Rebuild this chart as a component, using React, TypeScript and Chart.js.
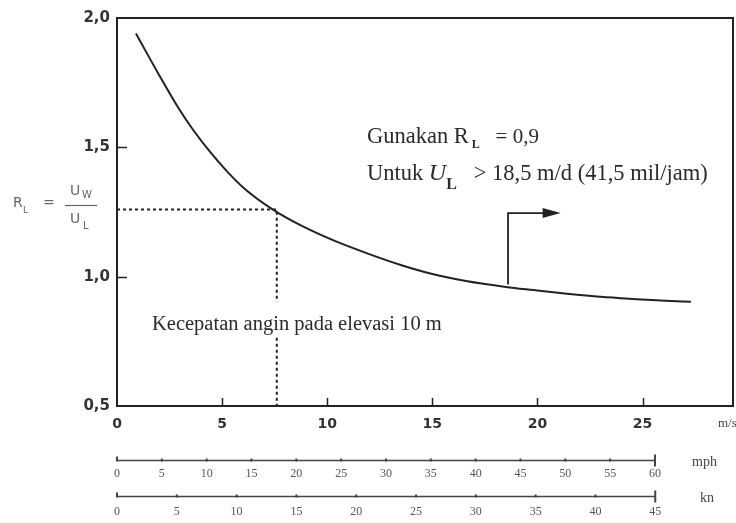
import React, { useEffect, useRef } from 'react';
import { Chart, registerables } from 'chart.js';

Chart.register(...registerables);

// Main curve: wind speed at 10 m elevation (m/s) vs R_L = U_W / U_L
const windSpeed = [0.9, 2.0, 2.9, 3.6, 4.4, 5.2, 6.0, 7.4, 8.7, 10.3, 11.9, 13.5, 15.0, 16.6, 18.5, 19.8, 21.4, 23.0, 24.5, 26.1, 27.3];
const ratio = [1.94, 1.78, 1.655, 1.57, 1.485, 1.41, 1.345, 1.26, 1.20, 1.14, 1.09, 1.045, 1.01, 0.983, 0.96, 0.948, 0.934, 0.922, 0.914, 0.907, 0.903];

// Reading example (dotted guide)
const guideX = [0, 7.6, 7.6];
const guideY = [1.26, 1.26, 0.5];

// Arrow marking U_L > 18.5
const arrowX = [18.6, 18.6, 20.3];
const arrowY = [0.97, 1.246, 1.246];
const arrowTip = { x: 21.1, y: 1.246 };

// Axis tick values
const xTicks = [0, 5, 10, 15, 20, 25];
const yTicks = [0.5, 1.0, 1.5, 2.0];
const mphTicks = [0, 5, 10, 15, 20, 25, 30, 35, 40, 45, 50, 55, 60];
const knTicks = [0, 5, 10, 15, 20, 25, 30, 35, 40, 45];

const SERIF = '"Liberation Serif", "DejaVu Serif", serif';
const SANS = '"DejaVu Sans", sans-serif';

type Seg = { text: string; font: string; dy?: number };

function drawSegs(ctx: CanvasRenderingContext2D, segs: Seg[], x: number, y: number) {
  let cx = x;
  for (const s of segs) {
    ctx.font = s.font;
    ctx.fillText(s.text, cx, y + (s.dy || 0));
    cx += ctx.measureText(s.text).width;
  }
  return cx;
}

const decorPlugin = {
  id: 'decor',
  afterDraw(chart: any) {
    const ctx: CanvasRenderingContext2D = chart.ctx;
    const { chartArea } = chart;
    const sx = chart.scales.x;
    const sy = chart.scales.y;
    ctx.save();

    // frame
    ctx.strokeStyle = '#222';
    ctx.lineWidth = 2;
    ctx.strokeRect(chartArea.left, chartArea.top, chartArea.right - chartArea.left, chartArea.bottom - chartArea.top);

    // inward ticks
    ctx.lineWidth = 1.5;
    ctx.beginPath();
    for (const v of xTicks) {
      if (v === 0) continue;
      const px = Math.round(sx.getPixelForValue(v)) + 0.5;
      ctx.moveTo(px, chartArea.bottom);
      ctx.lineTo(px, chartArea.bottom - 8);
    }
    for (const v of yTicks) {
      if (v === 0.5 || v === 2.0) continue;
      const py = Math.round(sy.getPixelForValue(v)) + 0.5;
      ctx.moveTo(chartArea.left, py);
      ctx.lineTo(chartArea.left + 10, py);
    }
    ctx.stroke();

    // arrow head
    const tx = sx.getPixelForValue(arrowTip.x);
    const ty = sy.getPixelForValue(arrowTip.y);
    ctx.fillStyle = '#222';
    ctx.beginPath();
    ctx.moveTo(tx, ty);
    ctx.lineTo(tx - 18, ty - 5);
    ctx.lineTo(tx - 18, ty + 5);
    ctx.closePath();
    ctx.fill();

    // secondary scales (mph, kn)
    const drawSub = (scale: any, ticks: number[]) => {
      const y = Math.round(scale.top) + 0.5;
      const x0 = scale.getPixelForValue(ticks[0]);
      const x1 = scale.getPixelForValue(ticks[ticks.length - 1]);
      ctx.strokeStyle = '#444';
      ctx.lineWidth = 1.3;
      ctx.beginPath();
      ctx.moveTo(x0, y);
      ctx.lineTo(x1, y);
      ctx.stroke();
      ctx.lineWidth = 2;
      ctx.beginPath();
      ticks.forEach((v, i) => {
        const px = scale.getPixelForValue(v);
        const h = i === ticks.length - 1 ? 6 : i === 0 ? 4 : 2;
        ctx.moveTo(px, y - h);
        ctx.lineTo(px, y + (i === ticks.length - 1 ? 6 : 1));
      });
      ctx.stroke();
    };
    drawSub(chart.scales.xMph, mphTicks);
    drawSub(chart.scales.xKn, knTicks);

    // unit labels
    ctx.fillStyle = '#444';
    ctx.textBaseline = 'middle';
    ctx.textAlign = 'left';
    ctx.font = `13px ${SERIF}`;
    ctx.fillText('m/s', 718, 424);
    ctx.font = `14px ${SERIF}`;
    ctx.fillText('mph', 692, 462);
    ctx.fillText('kn', 700, 498);

    // y-axis title: R_L = U_W / U_L
    ctx.fillStyle = '#666';
    ctx.font = `14px ${SANS}`;
    ctx.fillText('R', 13, 203);
    ctx.font = `9px ${SANS}`;
    ctx.fillText('L', 23, 211);
    ctx.font = `14px ${SANS}`;
    ctx.fillText('=', 43, 203);
    ctx.fillText('U', 70, 191);
    ctx.font = `10px ${SANS}`;
    ctx.fillText('W', 82, 195);
    ctx.font = `14px ${SANS}`;
    ctx.fillText('U', 70, 219);
    ctx.font = `10px ${SANS}`;
    ctx.fillText('L', 83, 226);
    ctx.strokeStyle = '#666';
    ctx.lineWidth = 1.2;
    ctx.beginPath();
    ctx.moveTo(65, 205.5);
    ctx.lineTo(97, 205.5);
    ctx.stroke();

    // annotations inside plot
    ctx.fillStyle = '#2a2a2a';
    ctx.textBaseline = 'alphabetic';
    const ax = sx.getPixelForValue(11.89);
    const l1 = sy.getPixelForValue(1.517);
    const l2 = sy.getPixelForValue(1.374);
    drawSegs(ctx, [
      { text: 'Gunakan R', font: `22.5px ${SERIF}` },
      { text: ' L', font: `bold 12px ${SERIF}`, dy: 5 },
      { text: '   = 0,9', font: `21px ${SERIF}` },
    ], ax, l1);
    drawSegs(ctx, [
      { text: 'Untuk ', font: `22.5px ${SERIF}` },
      { text: 'U', font: `italic 24px ${SERIF}` },
      { text: 'L', font: `bold 16px ${SERIF}`, dy: 9 },
      { text: '   > 18,5 m/d (41,5 mil/jam)', font: `22.5px ${SERIF}` },
    ], ax, l2);

    // lower note with white backing (interrupts dotted line)
    const kx = sx.getPixelForValue(1.665);
    const ky = sy.getPixelForValue(0.794);
    ctx.font = `20.5px ${SERIF}`;
    const note = 'Kecepatan angin pada elevasi 10 m';
    const w = ctx.measureText(note).width;
    ctx.fillStyle = '#fff';
    ctx.fillRect(kx - 2, ky - 28, w + 4, 33);
    ctx.fillStyle = '#2a2a2a';
    ctx.fillText(note, kx, ky);

    ctx.restore();
  },
};

export default function App() {
  const ref = useRef<HTMLCanvasElement | null>(null);

  useEffect(() => {
    if (!ref.current) return;
    const setTicks = (vals: number[]) => (s: any) => {
      s.ticks = vals.map((v) => ({ value: v }));
    };
    const chart = new Chart(ref.current, {
      type: 'line',
      data: {
        datasets: [
          {
            data: windSpeed.map((x, i) => ({ x, y: ratio[i] })),
            borderColor: '#222',
            borderWidth: 2,
            pointRadius: 0,
            tension: 0.4,
            cubicInterpolationMode: 'monotone',
            xAxisID: 'x',
            yAxisID: 'y',
          },
          {
            data: guideX.map((x, i) => ({ x, y: guideY[i] })),
            borderColor: '#222',
            borderWidth: 2,
            borderDash: [3, 3],
            pointRadius: 0,
            tension: 0,
            xAxisID: 'x',
            yAxisID: 'y',
          },
          {
            data: arrowX.map((x, i) => ({ x, y: arrowY[i] })),
            borderColor: '#222',
            borderWidth: 1.8,
            pointRadius: 0,
            tension: 0,
            xAxisID: 'x',
            yAxisID: 'y',
          },
        ],
      },
      options: {
        animation: false,
        responsive: false,
        layout: { padding: { top: 18, right: 3, bottom: 0, left: 0 } },
        plugins: { legend: { display: false }, tooltip: { enabled: false } },
        scales: {
          x: {
            type: 'linear',
            axis: 'x',
            position: 'bottom',
            weight: 0,
            min: 0,
            max: 29.3,
            afterBuildTicks: setTicks(xTicks),
            afterFit: (s: any) => { s.height = 54; },
            grid: { display: false, drawTicks: false },
            border: { display: true, color: '#222', width: 2 },
            ticks: { color: '#333', font: { family: SANS, size: 14, weight: 'bold' }, padding: 10, maxRotation: 0, autoSkip: false },
          },
          xMph: {
            type: 'linear',
            axis: 'x',
            position: 'bottom',
            weight: 1,
            min: 0,
            max: 68.7,
            afterBuildTicks: setTicks(mphTicks),
            afterFit: (s: any) => { s.height = 36; },
            grid: { display: false, drawTicks: false },
            border: { display: false },
            ticks: { color: '#555', font: { family: SERIF, size: 12 }, padding: 7, maxRotation: 0, autoSkip: false },
          },
          xKn: {
            type: 'linear',
            axis: 'x',
            position: 'bottom',
            weight: 2,
            min: 0,
            max: 51.5,
            afterBuildTicks: setTicks(knTicks),
            afterFit: (s: any) => { s.height = 27; },
            grid: { display: false, drawTicks: false },
            border: { display: false },
            ticks: { color: '#555', font: { family: SERIF, size: 12 }, padding: 9, maxRotation: 0, autoSkip: false },
          },
          y: {
            type: 'linear',
            position: 'left',
            min: 0.5,
            max: 2.0,
            afterBuildTicks: setTicks(yTicks),
            afterFit: (s: any) => { s.width = 117; },
            grid: { display: false, drawTicks: false },
            border: { display: true, color: '#222', width: 2 },
            ticks: {
              color: '#333',
              font: { family: SANS, size: 15, weight: 'bold' },
              padding: 7,
              callback: (v: any) => Number(v).toFixed(1).replace('.', ','),
            },
          },
        },
      },
      plugins: [decorPlugin],
    } as any);
    return () => chart.destroy();
  }, []);

  return (
    <canvas
      ref={ref}
      width={736}
      height={523}
      style={{ position: 'fixed', left: 0, top: 0, display: 'block', width: 736, height: 523 }}
    />
  );
}
